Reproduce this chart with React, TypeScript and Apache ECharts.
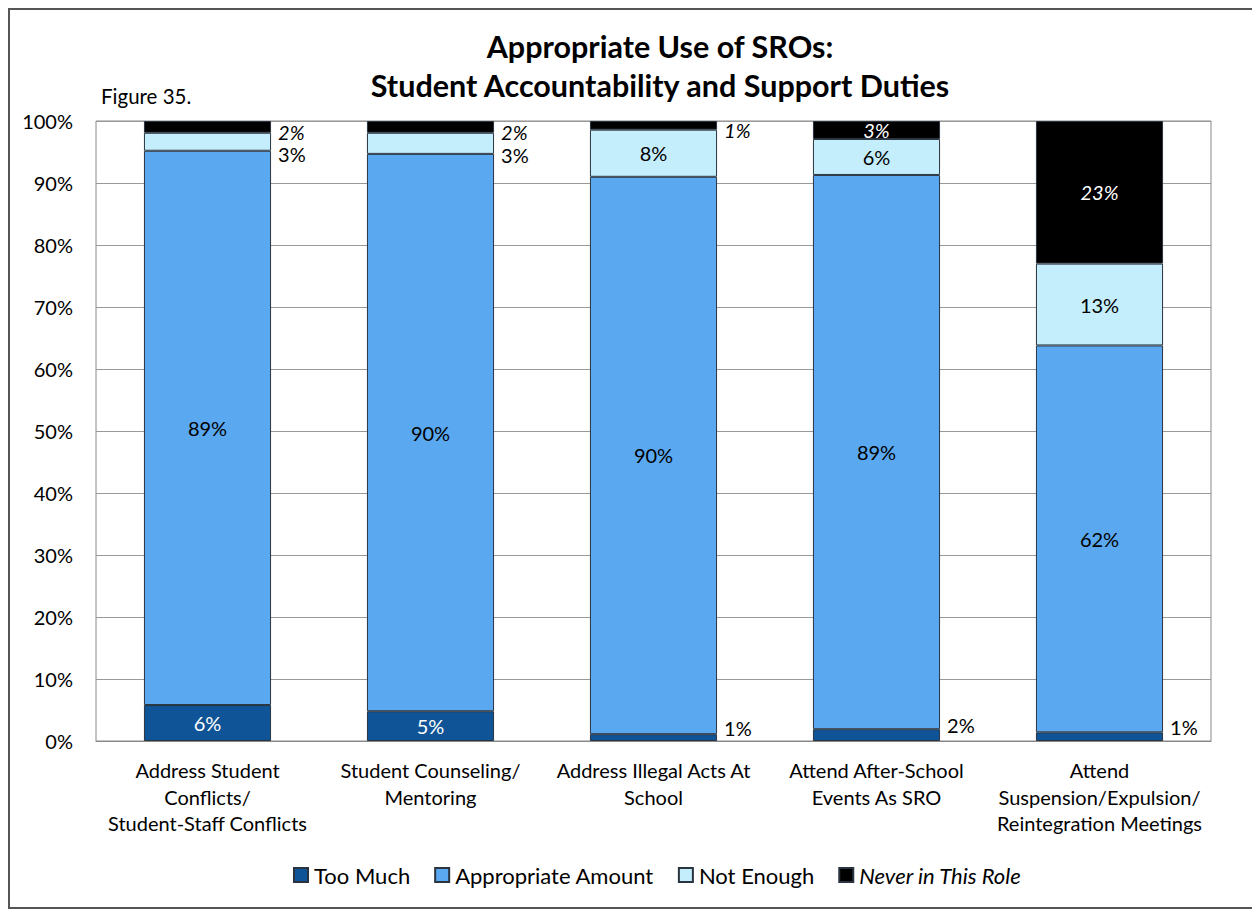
import React, { useEffect, useRef } from "react";
import * as echarts from "echarts";

const categories = [
  "Address Student\nConflicts/\nStudent-Staff Conflicts",
  "Student Counseling/\nMentoring",
  "Address Illegal Acts At\nSchool",
  "Attend After-School\nEvents As SRO",
  "Attend\nSuspension/Expulsion/\nReintegration Meetings",
];
const seriesNames = ["Too Much", "Appropriate Amount", "Not Enough", "Never in This Role"];
const tooMuch = [5.8, 4.8, 1.1, 1.9, 1.4];
const appropriate = [89.4, 89.9, 89.9, 89.4, 62.4];
const notEnough = [2.9, 3.4, 7.6, 5.8, 13.2];
const never = [1.9, 1.9, 1.4, 2.9, 23.0];
const yTicks = [0, 10, 20, 30, 40, 50, 60, 70, 80, 90, 100];

// label placement (style only)
const tooMuchOutside = [false, false, true, true, true];
const notEnoughOutside = [true, true, false, false, false];
const neverOutside = [true, true, true, false, false];

const FONT = "Lato, 'Open Sans', sans-serif";
const COLORS = ["#0F5496", "#5AA8F0", "#C5EEFC", "#000000"];

function buildData(values: number[], outside: boolean[] | null, insideColor: string, italic: boolean, outsideOffset: number[]) {
  return values.map((v, i) => {
    const out = outside ? outside[i] : false;
    return {
      value: v,
      label: out
        ? { position: "right", distance: 7, color: "#000", offset: outsideOffset, fontStyle: italic ? "italic" : "normal" }
        : { position: "inside", color: insideColor, fontStyle: italic ? "italic" : "normal" },
    };
  });
}

export default function App() {
  const ref = useRef<HTMLDivElement>(null);
  useEffect(() => {
    if (!ref.current) return;
    const chart = echarts.init(ref.current, null, { renderer: "svg" });
    const labelBase = {
      show: true,
      fontFamily: FONT,
      fontSize: 20,
      formatter: (p: any) => Math.round(p.value) + "%",
    };
    const mk = (idx: number, data: any[]) => ({
      name: seriesNames[idx],
      type: "bar",
      stack: "total",
      barCategoryGap: "43%",
      itemStyle: { color: COLORS[idx], borderColor: "#2a3440", borderWidth: 1 },
      label: { ...labelBase },
      data,
    });
    chart.setOption({
      animation: false,
      backgroundColor: "#fff",
      textStyle: { fontFamily: FONT },
      title: {
        text: "Appropriate Use of SROs:\nStudent Accountability and Support Duties",
        left: 655,
        top: 21,
        textAlign: "center",
        textStyle: { fontFamily: FONT, fontSize: 30.5, fontWeight: "bold", color: "#000", lineHeight: 39 },
      },
      graphic: [
        {
          type: "rect",
          shape: { x: 9, y: 9, width: 1270, height: 899 },
          style: { fill: "none", stroke: "#555", lineWidth: 2 },
          silent: true,
        },
        {
          type: "text",
          x: 101,
          y: 85,
          style: { text: "Figure 35.", fontFamily: FONT, fontSize: 20.5, fill: "#000" },
        },
      ],
      legend: {
        left: 288,
        top: 859,
        itemWidth: 14,
        itemHeight: 14,
        itemGap: 24,
        icon: "rect",
        textStyle: { fontFamily: FONT, fontSize: 22, color: "#000", padding: [0, 0, 0, 1] },
        data: [
          { name: seriesNames[0] },
          { name: seriesNames[1] },
          { name: seriesNames[2] },
          { name: seriesNames[3], textStyle: { fontStyle: "italic" } },
        ],
      },
      grid: { left: 96, right: 41, top: 121, bottom: 170, show: true, borderColor: "#888", borderWidth: 1 },
      xAxis: {
        type: "category",
        data: categories,
        axisTick: { show: false },
        axisLine: { lineStyle: { color: "#888" } },
        axisLabel: { fontFamily: FONT, fontSize: 20, color: "#000", lineHeight: 26.5, margin: 16, interval: 0 },
      },
      yAxis: {
        type: "value",
        min: yTicks[0],
        max: yTicks[yTicks.length - 1],
        interval: 10,
        axisLabel: { formatter: "{value}%", fontFamily: FONT, fontSize: 20, color: "#000", margin: 23 },
        splitLine: { lineStyle: { color: "#999" } },
        axisLine: { show: false },
        axisTick: { show: false },
      },
      series: [
        mk(0, buildData(tooMuch, tooMuchOutside, "#fff", false, [0, -10])),
        mk(1, buildData(appropriate, null, "#000", false, [0, 0])),
        mk(2, buildData(notEnough, notEnoughOutside, "#000", false, [0, 12])),
        mk(3, buildData(never, neverOutside, "#fff", true, [0, 5])),
      ],
    });
    return () => chart.dispose();
  }, []);
  return <div ref={ref} style={{ width: 1252, height: 911, position: "absolute", left: 0, top: 0 }} />;
}
